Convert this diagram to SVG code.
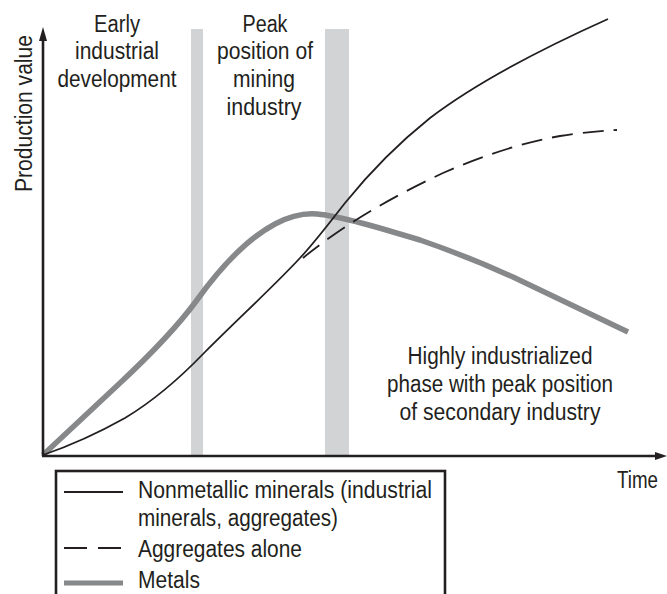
<svg xmlns="http://www.w3.org/2000/svg" width="667" height="594" viewBox="0 0 667 594">
<style>
.t{font-family:"Liberation Sans Narrow","Liberation Sans",Arial,sans-serif;font-size:23px;fill:#231f20}
.m{text-anchor:middle}
.bar{fill:#d1d3d4}
.ax{stroke:#231f20;stroke-width:2.6;fill:none}
.solid{stroke:#231f20;stroke-width:1.8;fill:none}
.dash{stroke:#231f20;stroke-width:1.8;fill:none;stroke-dasharray:21 10}
.metal{stroke:#87888a;stroke-width:5.5;fill:none}
</style>
<rect width="667" height="594" fill="#fff"/>
<g id="bars">
<rect class="bar" x="191" y="29" width="12" height="426"/>
<rect class="bar" x="325" y="29" width="24" height="426"/>
</g>
<g id="phase-labels">
<g id="label-early">
<text class="t m" x="117" y="32" textLength="46" lengthAdjust="spacingAndGlyphs">Early</text>
<text class="t m" x="117" y="59" textLength="84" lengthAdjust="spacingAndGlyphs">industrial</text>
<text class="t m" x="117" y="87" textLength="119" lengthAdjust="spacingAndGlyphs">development</text>
</g>
<g id="label-peak">
<text class="t m" x="265" y="32" textLength="45" lengthAdjust="spacingAndGlyphs">Peak</text>
<text class="t m" x="265" y="59" textLength="96" lengthAdjust="spacingAndGlyphs">position of</text>
<text class="t m" x="264" y="87" textLength="62" lengthAdjust="spacingAndGlyphs">mining</text>
<text class="t m" x="264" y="115" textLength="75" lengthAdjust="spacingAndGlyphs">industry</text>
</g>
<g id="label-high">
<text class="t m" x="500" y="364" textLength="185" lengthAdjust="spacingAndGlyphs">Highly industrialized</text>
<text class="t m" x="500" y="392" textLength="226" lengthAdjust="spacingAndGlyphs">phase with peak position</text>
<text class="t m" x="500" y="420" textLength="201" lengthAdjust="spacingAndGlyphs">of secondary industry</text>
</g>
</g>
<g id="connectors">
<path id="metals" class="metal" d="M43,455 L120,383 C150,355 175,330 197,300 C220,268 245,240 275,224 C290,216 305,213 317,214 C340,216 380,228 420,240 C455,252 480,262 513,277 L628,332"/>
<path id="nonmetallic" class="solid" d="M43,455 C75,444 100,432 125,418 C155,400 180,378 205,352 C240,317 275,285 300,258 C315,242 330,222 345,203 C370,172 400,142 430,118 C480,80 550,45 608,19"/>
<path id="aggregates" class="dash" d="M303,258 C310,252 318,246 332,236 C360,216 400,193 443,173 C480,157 520,143 560,136 C585,132 600,131 617,130"/>
</g>
<g id="axes">
<line class="ax" x1="43" y1="456" x2="43" y2="38"/>
<polygon points="43,27 47,41 39,41" fill="#231f20"/>
<line class="ax" x1="42" y1="456" x2="658" y2="456"/>
<polygon points="667,456 655,452 655,460" fill="#231f20"/>
<text class="t" transform="translate(32,192) rotate(-90)" x="0" y="0" textLength="157" lengthAdjust="spacingAndGlyphs">Production value</text>
<text class="t" x="617" y="488" textLength="41" lengthAdjust="spacingAndGlyphs">Time</text>
</g>
<g id="legend">
<rect x="56" y="471" width="389" height="140" fill="none" stroke="#231f20" stroke-width="2.6"/>
<line class="solid" x1="64" y1="492" x2="123" y2="492"/>
<text class="t" x="138" y="498" textLength="294" lengthAdjust="spacingAndGlyphs">Nonmetallic minerals (industrial</text>
<text class="t" x="138" y="526" textLength="200" lengthAdjust="spacingAndGlyphs">minerals, aggregates)</text>
<line x1="64" y1="548" x2="121" y2="548" stroke="#231f20" stroke-width="1.8" stroke-dasharray="23 11"/>
<text class="t" x="138" y="557" textLength="164" lengthAdjust="spacingAndGlyphs">Aggregates alone</text>
<line x1="64" y1="583" x2="123" y2="583" stroke="#87888a" stroke-width="5"/>
<text class="t" x="138" y="588" textLength="62" lengthAdjust="spacingAndGlyphs">Metals</text>
</g>
</svg>
